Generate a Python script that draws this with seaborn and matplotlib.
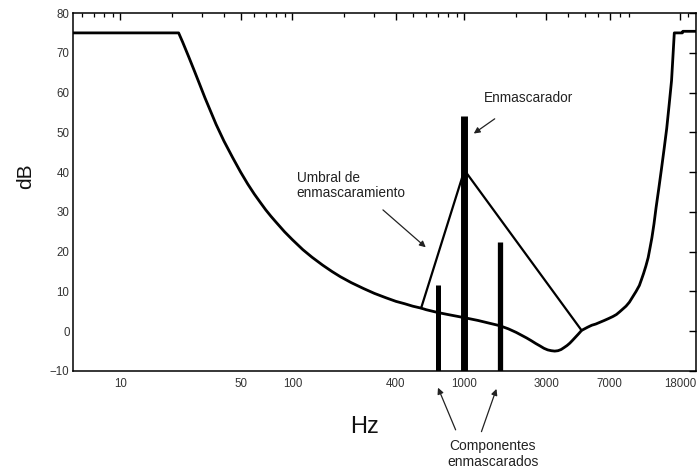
import numpy as np
import pandas as pd
import matplotlib
matplotlib.use("Agg")
import matplotlib.pyplot as plt
from matplotlib.ticker import FixedLocator, NullFormatter, LogLocator
import seaborn as sns

# Absolute threshold of hearing (clipped at 75 dB)
threshold_hz = [5.3, 21.8, 23, 25, 27, 29, 31, 33, 36, 40, 45, 50, 55, 60, 65, 70,
                75, 80, 90, 100, 115, 130, 150, 170, 190, 220, 260, 300, 350, 400,
                450, 500, 560, 600, 700, 800, 1000, 1200, 1400, 1600, 1800, 2000,
                2300, 2450, 2600, 2750, 2900, 3050, 3200, 3350, 3500, 3650, 3800,
                3950, 4100, 4250, 4400, 4600, 4800, 5200, 5500, 5800, 6100, 6500,
                6900, 7300, 7650, 8000, 8700, 9100, 9500, 9950, 10400, 10700,
                11000, 11350, 11700, 12000, 12300, 12650, 13000, 13500, 14000,
                14500, 15000, 15500, 16000, 16300, 16600, 18500, 18600, 22050]
threshold_db = [75, 75, 72.7, 68.9, 65.3, 61.9, 58.7, 55.9, 52.0, 47.8, 43.6, 40.0,
                37.0, 34.5, 32.4, 30.5, 28.9, 27.5, 25.0, 23.0, 20.5, 18.6, 16.6,
                15.0, 13.7, 12.2, 10.7, 9.5, 8.4, 7.5, 6.9, 6.3, 5.8, 5.4, 4.7,
                4.2, 3.4, 2.7, 2.0, 1.4, 0.6, -0.3, -1.7, -2.4, -3.1, -3.7, -4.3,
                -4.7, -4.9, -5.0, -4.9, -4.6, -4.1, -3.6, -3.0, -2.3, -1.6, -0.7,
                0.2, 1.0, 1.5, 1.8, 2.2, 2.7, 3.2, 3.7, 4.2, 4.9, 6.3, 7.3, 8.6,
                10.0, 11.5, 13.0, 14.5, 16.4, 18.5, 21.0, 23.5, 27.0, 31.0, 36.0,
                41.0, 46.0, 51.0, 57.0, 63.0, 69.0, 75, 75, 75.4, 75.4]

# Masking threshold around the masker
mask_hz = [560, 1000, 4800]
mask_db = [5.8, 40.5, 0.2]

# Masker and masked components
tone_hz = [700, 1000, 1600]
tone_db = [11.5, 54, 22.5]
tone_width = [3.6, 5.0, 3.8]

x_ticks = [10, 50, 100, 400, 1000, 3000, 7000, 18000]
x_tick_labels = ["10", "50", "100", "400", "1000", "3000", "7000", "18000"]
y_ticks = list(range(-10, 81, 10))

sns.set_style("white")
plt.rcParams["font.family"] = ["Liberation Sans", "DejaVu Sans"]

fig = plt.figure(figsize=(6.99, 4.68), dpi=100)
ax = fig.add_axes([0.1044, 0.2073, 0.8906, 0.7649])

curve = pd.DataFrame({"Hz": threshold_hz, "dB": threshold_db})
mask = pd.DataFrame({"Hz": mask_hz, "dB": mask_db})

sns.lineplot(data=curve, x="Hz", y="dB", sort=False, estimator=None,
             color="black", lw=2.0, ax=ax)
sns.lineplot(data=mask, x="Hz", y="dB", sort=False, estimator=None,
             color="black", lw=1.6, ax=ax)

for f, h, w in zip(tone_hz, tone_db, tone_width):
    ax.vlines(f, -10, h, color="black", lw=w, capstyle="butt", zorder=3)

ax.set_xscale("log")
ax.set_xlim(5.3, 22050)
ax.set_ylim(-10, 80)

ax.xaxis.set_major_locator(FixedLocator(x_ticks))
ax.set_xticklabels(x_tick_labels)
ax.xaxis.set_minor_locator(LogLocator(base=10, subs=np.arange(2, 10), numticks=20))
ax.xaxis.set_minor_formatter(NullFormatter())
ax.set_yticks(y_ticks)

ax.tick_params(axis="both", which="both", direction="in", top=True, right=True,
               colors="black", labelcolor="#333333", labelsize=8.3)
ax.tick_params(axis="x", which="major", length=5, width=1.0, pad=5)
ax.tick_params(axis="x", which="minor", length=2.8, width=0.9)
ax.tick_params(axis="y", which="major", length=5, width=1.0, pad=2.5)
for s in ax.spines.values():
    s.set_linewidth(1.1)
    s.set_color("black")

ax.set_xlabel("Hz", fontsize=17, color="#111111")
ax.xaxis.set_label_coords(0.468, -0.156)
ax.set_ylabel("dB", fontsize=15, color="#111111")
ax.yaxis.set_label_coords(-0.076, 0.543)
ax.xaxis.label.set_verticalalignment("center")
ax.yaxis.label.set_verticalalignment("center")

arrow = dict(arrowstyle="-|>", lw=0.9, color="#222222", mutation_scale=9,
             shrinkA=0, shrinkB=0)

ax.text(1295, 58.7, "Enmascarador", fontsize=9.8, color="#222222",
        ha="left", va="center")
ax.annotate("", xy=(1133, 49.7), xytext=(1500, 53.4), arrowprops=arrow)

ax.text(106, 36.6, "Umbral de\nenmascaramiento", fontsize=9.8, color="#222222",
        ha="left", va="center", linespacing=1.15)
ax.annotate("", xy=(596, 21.1), xytext=(336, 30.5), arrowprops=arrow)

ax.text(1460, -30.8, "Componentes\nenmascarados", fontsize=10, color="#222222",
        ha="center", va="center", linespacing=1.15, clip_on=False)
ax.annotate("", xy=(702, -14.2), xytext=(889, -24.8), arrowprops=arrow,
            annotation_clip=False)
ax.annotate("", xy=(1535, -14.5), xytext=(1256, -25.25), arrowprops=arrow,
            annotation_clip=False)

fig.savefig("out.png", dpi=100)
